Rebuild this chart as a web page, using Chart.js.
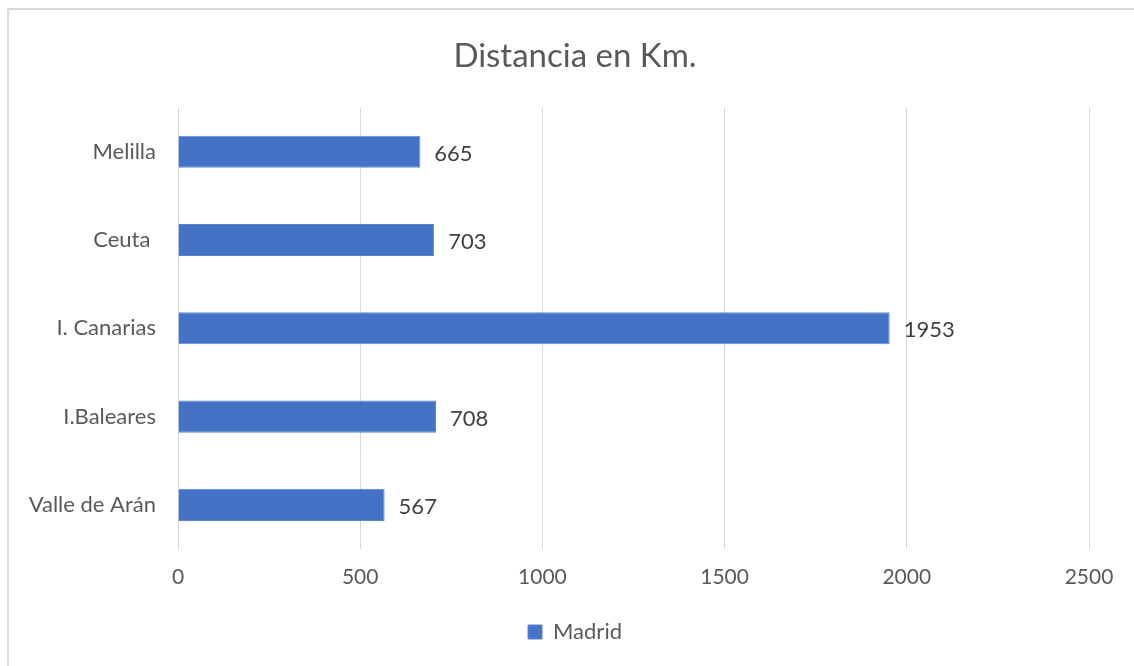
<!DOCTYPE html>
<html>
<head>
<meta charset="utf-8">
<title>Distancia en Km.</title>
<script src="https://cdn.jsdelivr.net/npm/chart.js@4.4.0/dist/chart.umd.min.js"></script>
<style>
  html, body { margin: 0; padding: 0; background: #fff; overflow: hidden; }
  #frame {
    position: absolute; left: 7px; top: 8px; width: 1140px; height: 680px;
    border: 2px solid #d9d9d9; box-sizing: border-box;
  }
  #wrap { position: absolute; left: 0; top: 0; width: 1150px; height: 666px; }
</style>
</head>
<body>
<div id="frame"></div>
<div id="wrap"><canvas id="chart" width="1150" height="666"></canvas></div>
<script>
// Chart data
const categories = ['Melilla', 'Ceuta ', 'I. Canarias', 'I.Baleares', 'Valle de Arán'];
const madridValues = [665, 703, 1953, 708, 567];
const seriesName = 'Madrid';
const xTicks = [0, 500, 1000, 1500, 2000, 2500];

const FONT = 'Lato, "Open Sans", sans-serif';
const textColor = '#595959';

// Draw the value next to the end of each bar
const barValueLabels = {
  id: 'barValueLabels',
  afterDatasetsDraw(chart) {
    const ctx = chart.ctx;
    ctx.save();
    ctx.font = '22px ' + FONT;
    ctx.fillStyle = '#404040';
    ctx.textAlign = 'left';
    ctx.textBaseline = 'middle';
    chart.getDatasetMeta(0).data.forEach((bar, i) => {
      ctx.fillText(String(madridValues[i]), bar.x + 14, bar.y + 2);
    });
    ctx.restore();
  }
};

new Chart(document.getElementById('chart').getContext('2d'), {
  type: 'bar',
  data: {
    labels: categories,
    datasets: [{
      label: seriesName,
      data: madridValues,
      backgroundColor: '#4472C4',
      borderColor: '#5b85d0',
      borderWidth: 1,
      categoryPercentage: 1,
      barPercentage: 0.364
    }]
  },
  options: {
    indexAxis: 'y',
    responsive: false,
    animation: false,
    layout: { padding: { top: 10, right: 0, bottom: 13, left: 0 } },
    scales: {
      x: {
        min: 0,
        max: 2500,
        afterBuildTicks: scale => { scale.ticks = xTicks.map(v => ({ value: v })); },
        afterFit: scale => { scale.height = 58; },
        grid: { color: '#d9d9d9', lineWidth: 1, drawTicks: false },
        border: { display: false },
        ticks: {
          color: textColor,
          font: { family: FONT, size: 21 },
          padding: 16,
          callback: v => String(v)
        }
      },
      y: {
        afterFit: scale => { scale.width = 178; },
        grid: { display: false, drawTicks: false },
        border: { display: true, color: '#d9d9d9' },
        ticks: { color: textColor, font: { family: FONT, size: 22 }, padding: 22 }
      },
      // empty spacer on the right so title and legend sit centred on the frame
      spacer: {
        type: 'linear',
        position: 'right',
        afterFit: scale => { scale.width = 61; },
        grid: { display: false, drawTicks: false },
        border: { display: false },
        ticks: { display: false }
      }
    },
    plugins: {
      title: {
        display: true,
        text: 'Distancia en Km.',
        color: textColor,
        font: { family: FONT, size: 33, weight: 'normal' },
        padding: { top: 27, bottom: 31 }
      },
      legend: {
        position: 'bottom',
        labels: {
          color: textColor,
          font: { family: FONT, size: 22 },
          boxWidth: 14,
          boxHeight: 14,
          padding: 14
        }
      },
      tooltip: { enabled: false }
    }
  },
  plugins: [barValueLabels]
});
</script>
</body>
</html>
